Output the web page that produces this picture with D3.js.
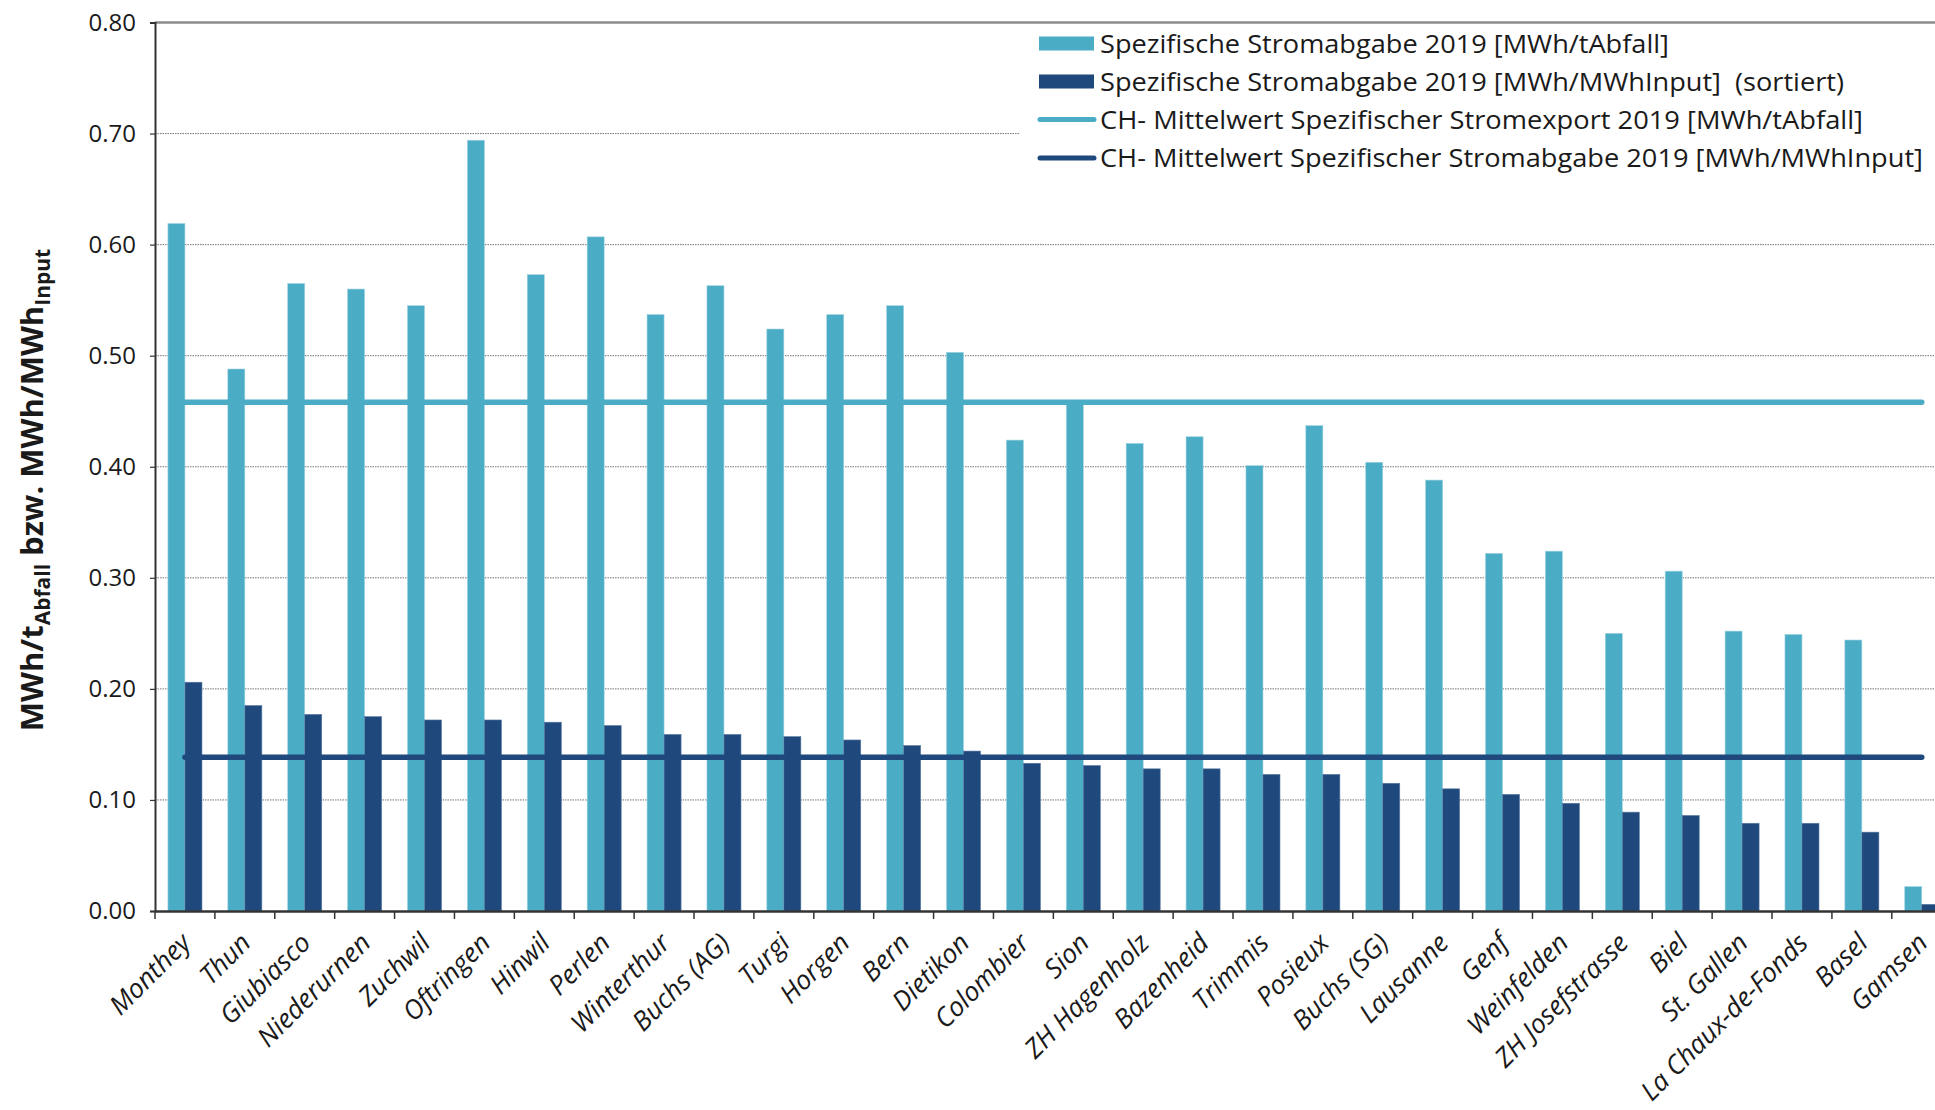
<!DOCTYPE html>
<html>
<head>
<meta charset="utf-8">
<script src="https://cdn.jsdelivr.net/npm/d3@7"></script>
<style>
  html, body { margin: 0; padding: 0; background: #fff; overflow: hidden; }
  svg { display: block; }
  text { font-family: "Open Sans", "Noto Sans", sans-serif; fill: #1a1a1a; }
</style>
</head>
<body>
<svg id="chart" width="1935" height="1110"></svg>
<script>
// ---- data ----
const categories = ["Monthey","Thun","Giubiasco","Niederurnen","Zuchwil","Oftringen","Hinwil","Perlen","Winterthur","Buchs (AG)","Turgi","Horgen","Bern","Dietikon","Colombier","Sion","ZH Hagenholz","Bazenheid","Trimmis","Posieux","Buchs (SG)","Lausanne","Genf","Weinfelden","ZH Josefstrasse","Biel","St. Gallen","La Chaux-de-Fonds","Basel","Gamsen"];
const perTonne = [0.619,0.488,0.565,0.560,0.545,0.694,0.573,0.607,0.537,0.563,0.524,0.537,0.545,0.503,0.424,0.459,0.421,0.427,0.401,0.437,0.404,0.388,0.322,0.324,0.250,0.306,0.252,0.249,0.244,0.022];
const perInput = [0.206,0.185,0.177,0.175,0.172,0.172,0.170,0.167,0.159,0.159,0.157,0.154,0.149,0.144,0.133,0.131,0.128,0.128,0.123,0.123,0.115,0.110,0.105,0.097,0.089,0.086,0.079,0.079,0.071,0.006];
const meanPerTonne = 0.458;
const meanPerInput = 0.1385;
const yTicks = [0,0.1,0.2,0.3,0.4,0.5,0.6,0.7,0.8];
const seriesNames = ["Spezifische Stromabgabe 2019 [MWh/tAbfall]", "Spezifische Stromabgabe 2019 [MWh/MWhInput]  (sortiert)"];
const lineNames = ["CH- Mittelwert Spezifischer Stromexport 2019 [MWh/tAbfall]", "CH- Mittelwert Spezifischer Stromabgabe 2019 [MWh/MWhInput]"];

const colLight = "#4BACC6", colDark = "#1F497D";

const svg = d3.select("#chart");
const plotLeft = 155, plotTop = 22.5, plotBottom = 911, step = 59.89;
const plotRight = plotLeft + step * categories.length;

const x = d3.scaleBand().domain(categories).range([plotLeft, plotRight]).padding(0);
const x1 = d3.scaleBand().domain(["t","i"]).range([0, x.bandwidth()]).paddingInner(0).paddingOuter(0.76);
const y = d3.scaleLinear().domain([0, 0.8]).range([plotBottom, plotTop]);

// gridlines
svg.append("g").selectAll("line").data(yTicks.filter(d => d > 0 && d < 0.8)).join("line")
  .attr("x1", plotLeft).attr("x2", 1935).attr("y1", d => y(d)).attr("y2", d => y(d))
  .attr("stroke", "#777").attr("stroke-width", 1).attr("stroke-dasharray", "1.5,1");
// top border
svg.append("line").attr("x1", plotLeft).attr("x2", 1935).attr("y1", y(0.8)).attr("y2", y(0.8))
  .attr("stroke", "#8c8c8c").attr("stroke-width", 2.5);

// bars
const g = svg.append("g");
g.selectAll("rect.t").data(categories).join("rect").attr("class","t")
  .attr("x", d => x(d) + x1("t")).attr("width", x1.bandwidth())
  .attr("y", (d,i) => y(perTonne[i])).attr("height", (d,i) => y(0) - y(perTonne[i]))
  .attr("fill", colLight).attr("stroke", "#9fd3e2").attr("stroke-width", 0.6);
g.selectAll("rect.i").data(categories).join("rect").attr("class","i")
  .attr("x", d => x(d) + x1("i")).attr("width", x1.bandwidth())
  .attr("y", (d,i) => y(perInput[i])).attr("height", (d,i) => y(0) - y(perInput[i]))
  .attr("fill", colDark).attr("stroke", "#5a7aa3").attr("stroke-width", 0.6);

// mean lines
const cx = d => x(d) + x.bandwidth() / 2;
const first = categories[0], last = categories[categories.length - 1];
svg.append("line").attr("x1", cx(first)).attr("x2", cx(last))
  .attr("y1", y(meanPerTonne)).attr("y2", y(meanPerTonne))
  .attr("stroke", colLight).attr("stroke-width", 5.5).attr("stroke-linecap", "round");
svg.append("line").attr("x1", cx(first)).attr("x2", cx(last))
  .attr("y1", y(meanPerInput)).attr("y2", y(meanPerInput))
  .attr("stroke", colDark).attr("stroke-width", 5.5).attr("stroke-linecap", "round");

// y axis
const yAxis = d3.axisLeft(y).tickValues(yTicks).tickFormat(d3.format(".2f")).tickSize(5).tickPadding(14);
const ya = svg.append("g").attr("transform", `translate(${plotLeft},0)`).call(yAxis);
ya.select(".domain").attr("stroke", "#333").attr("stroke-width", 2);
ya.selectAll(".tick line").attr("stroke", "#333").attr("stroke-width", 1.2);
ya.selectAll(".tick text").attr("font-size", 24).attr("font-family", "'Open Sans', sans-serif").attr("fill", "#1a1a1a");

// x axis
const xAxis = d3.axisBottom(x).tickSize(0).tickFormat("");
const xa = svg.append("g").attr("transform", `translate(0,${plotBottom})`).call(xAxis);
xa.select(".domain").attr("stroke", "#333").attr("stroke-width", 2.5);
// category boundary ticks
svg.append("g").selectAll("line").data(d3.range(categories.length + 1)).join("line")
  .attr("x1", i => plotLeft + i * step).attr("x2", i => plotLeft + i * step)
  .attr("y1", plotBottom).attr("y2", plotBottom + 8)
  .attr("stroke", "#333").attr("stroke-width", 1.5);
// category labels
svg.append("g").selectAll("text").data(categories).join("text")
  .attr("transform", d => `translate(${cx(d) + 1},${plotBottom + 27}) rotate(-45)`)
  .attr("text-anchor", "end").attr("dy", "0.35em")
  .attr("font-size", 26.5).attr("font-style", "italic")
  .text(d => d);

// y title
const title = svg.append("text").attr("transform", "translate(43,490) rotate(-90)")
  .attr("text-anchor", "middle").attr("font-size", 31).attr("font-weight", "bold");
title.append("tspan").text("MWh/t");
title.append("tspan").attr("font-size", 21).attr("dy", 7).text("Abfall");
title.append("tspan").attr("dy", -7).text(" bzw. MWh/MWh");
title.append("tspan").attr("font-size", 21).attr("dy", 7).text("Input");

// legend
const lg = svg.append("g");
lg.append("rect").attr("x", 1020).attr("y", 25).attr("width", 915).attr("height", 165).attr("fill", "#fff");
const rows = [
  {type: "rect", color: colLight, label: seriesNames[0], cy: 43.5, w: 569},
  {type: "rect", color: colDark, label: seriesNames[1], cy: 81.5, w: 744},
  {type: "line", color: colLight, label: lineNames[0], cy: 119.5, w: 763},
  {type: "line", color: colDark, label: lineNames[1], cy: 158, w: 823}
];
rows.forEach(r => {
  if (r.type === "rect") {
    lg.append("rect").attr("x", 1039).attr("y", r.cy - 7).attr("width", 55).attr("height", 14).attr("fill", r.color);
  } else {
    lg.append("line").attr("x1", 1040).attr("x2", 1094).attr("y1", r.cy).attr("y2", r.cy)
      .attr("stroke", r.color).attr("stroke-width", 5).attr("stroke-linecap", "round");
  }
  lg.append("text").attr("x", 1100).attr("y", r.cy).attr("dy", "0.36em")
    .attr("font-size", 25).style("white-space", "pre")
    .attr("textLength", r.w).attr("lengthAdjust", "spacingAndGlyphs")
    .text(r.label);
});
</script>
</body>
</html>
